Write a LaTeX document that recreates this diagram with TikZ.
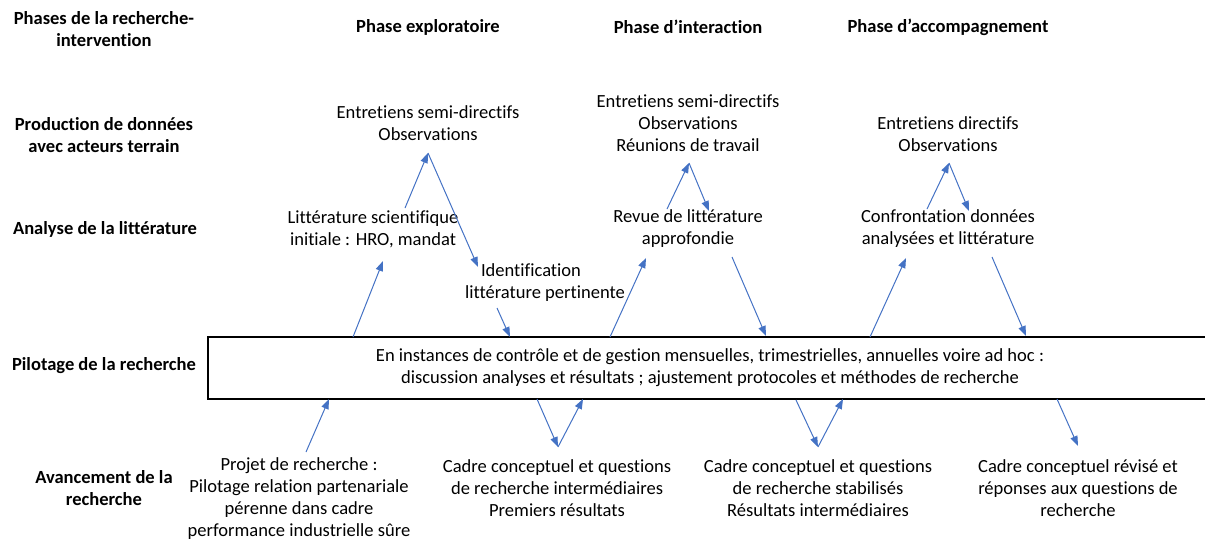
\documentclass[tikz,border=0pt]{standalone}
\definecolor{myblue}{RGB}{68, 114, 196}
\usepackage{fontspec}
\setmainfont{Carlito}[Ligatures=NoCommon]
\usepackage{tikz}
\usetikzlibrary{arrows.meta}
\tikzset{every picture/.style={line width=0.75pt}}
\tikzset{
  rowlabel/.style={font=\fontsize{13.9}{16.5}\selectfont\bfseries, align=center, inner sep=0pt},
  celltext/.style={font=\fontsize{13.9}{16.5}\selectfont, align=center, inner sep=0pt},
  bluearrow/.style={color=myblue, draw opacity=1, line width=0.75pt, -{Triangle[length=7.5pt,width=5.5pt]}}
}

\begin{document}
\begin{tikzpicture}[x=0.75pt,y=0.75pt,yscale=-1,xscale=1]
\useasboundingbox (0,0) rectangle (1205,547);
% Row labels
\node (phases) [rowlabel] at (104,29) {Phases de la recherche-\\intervention};
\node (production) [rowlabel] at (104,135) {Production de données\\avec acteurs terrain};
\node (analyse) [rowlabel] at (105,229) {Analyse de la littérature};
\node (pilotage) [rowlabel] at (104,366) {Pilotage de la recherche};
\node (avancement) [rowlabel] at (104,488) {Avancement de la\\recherche};
% Phase titles
\node (explo) [rowlabel] at (428,27) {Phase exploratoire};
\node (inter) [rowlabel] at (688,27) {Phase d’interaction};
\node (accomp) [rowlabel] at (948,27) {Phase d’accompagnement};
% Text Node: production de données
\node (donnees1) [celltext] at (428,123) {Entretiens semi-directifs\\Observations};
\node (donnees2) [celltext] at (688,123) {Entretiens semi-directifs\\Observations\\Réunions de travail};
\node (donnees3) [celltext] at (948,134) {Entretiens directifs\\Observations};
% Text Node: littérature
\node (litt1) [celltext] at (373,229) {Littérature scientifique\\initiale : HRO, mandat};
\node (ident) [celltext] at (545,283) {Identification\hspace*{21pt}\\littérature pertinente};
\node (litt2) [celltext] at (688,229) {Revue de littérature\\approfondie};
\node (litt3) [celltext] at (948,229) {Confrontation données\\analysées et littérature};
%Shape: Rectangle (pilotage), right side runs off the page
\node (pilot) [draw, line width=1pt, minimum width=753pt, minimum height=46.5pt, celltext] at (710,368)
  {En instances de contrôle et de gestion mensuelles, trimestrielles, annuelles voire ad hoc :\\discussion analyses et résultats ; ajustement protocoles et méthodes de recherche};
% Text Node: avancement
\node (avance1) [celltext] at (299,499) {Projet de recherche :\\Pilotage relation partenariale\\pérenne dans cadre\\performance industrielle sûre};
\node (avance2) [celltext] at (557,488) {Cadre conceptuel et questions\\de recherche intermédiaires\\Premiers résultats};
\node (avance3) [celltext] at (818,488) {Cadre conceptuel et questions\\de recherche stabilisés\\Résultats intermédiaires};
\node (avance4) [celltext] at (1078,488) {Cadre conceptuel révisé et\\réponses aux questions de\\recherche};
% arrow ends
\coordinate (p1) at (353,337); \coordinate (l1b) at (383,261);
\coordinate (l1t) at (405,208); \coordinate (d1b) at (428,153);
\coordinate (idt) at (478,267); \coordinate (idb) at (497,308);
\coordinate (p2) at (510,337); \coordinate (p3) at (610,337);
\coordinate (l2b) at (646,258); \coordinate (l2t) at (667,209);
\coordinate (d2b) at (689,163); \coordinate (l2r) at (709,211);
\coordinate (l2d) at (732,257); \coordinate (p4) at (766,336);
\coordinate (p5) at (870,337); \coordinate (l3b) at (906,258);
\coordinate (l3t) at (927,209); \coordinate (d3b) at (949,163);
\coordinate (l3r) at (969,211); \coordinate (l3d) at (992,257);
\coordinate (p6) at (1026,336);
\coordinate (q1) at (329,399); \coordinate (a1t) at (306,452);
\coordinate (q2) at (537,399); \coordinate (a2t) at (558,447);
\coordinate (q3) at (583,399); \coordinate (q4) at (796,400);
\coordinate (a3t) at (818,447); \coordinate (q5) at (843,399);
\coordinate (q6) at (1057,399); \coordinate (a4t) at (1078,446);
%Straight Lines: phase exploratoire
\draw [bluearrow] (p1) -- (l1b);
\draw [bluearrow] (l1t) -- (d1b);
\draw [bluearrow] (d1b) -- (idt);
\draw [bluearrow] (idb) -- (p2);
%Straight Lines: phase d'interaction
\draw [bluearrow] (p3) -- (l2b);
\draw [bluearrow] (l2t) -- (d2b);
\draw [bluearrow] (d2b) -- (l2r);
\draw [bluearrow] (l2d) -- (p4);
%Straight Lines: phase d'accompagnement
\draw [bluearrow] (p5) -- (l3b);
\draw [bluearrow] (l3t) -- (d3b);
\draw [bluearrow] (d3b) -- (l3r);
\draw [bluearrow] (l3d) -- (p6);
%Straight Lines: avancement
\draw [bluearrow] (a1t) -- (q1);
\draw [bluearrow] (q2) -- (a2t);
\draw [bluearrow] (a2t) -- (q3);
\draw [bluearrow] (q4) -- (a3t);
\draw [bluearrow] (a3t) -- (q5);
\draw [bluearrow] (q6) -- (a4t);
\end{tikzpicture}
\end{document}
